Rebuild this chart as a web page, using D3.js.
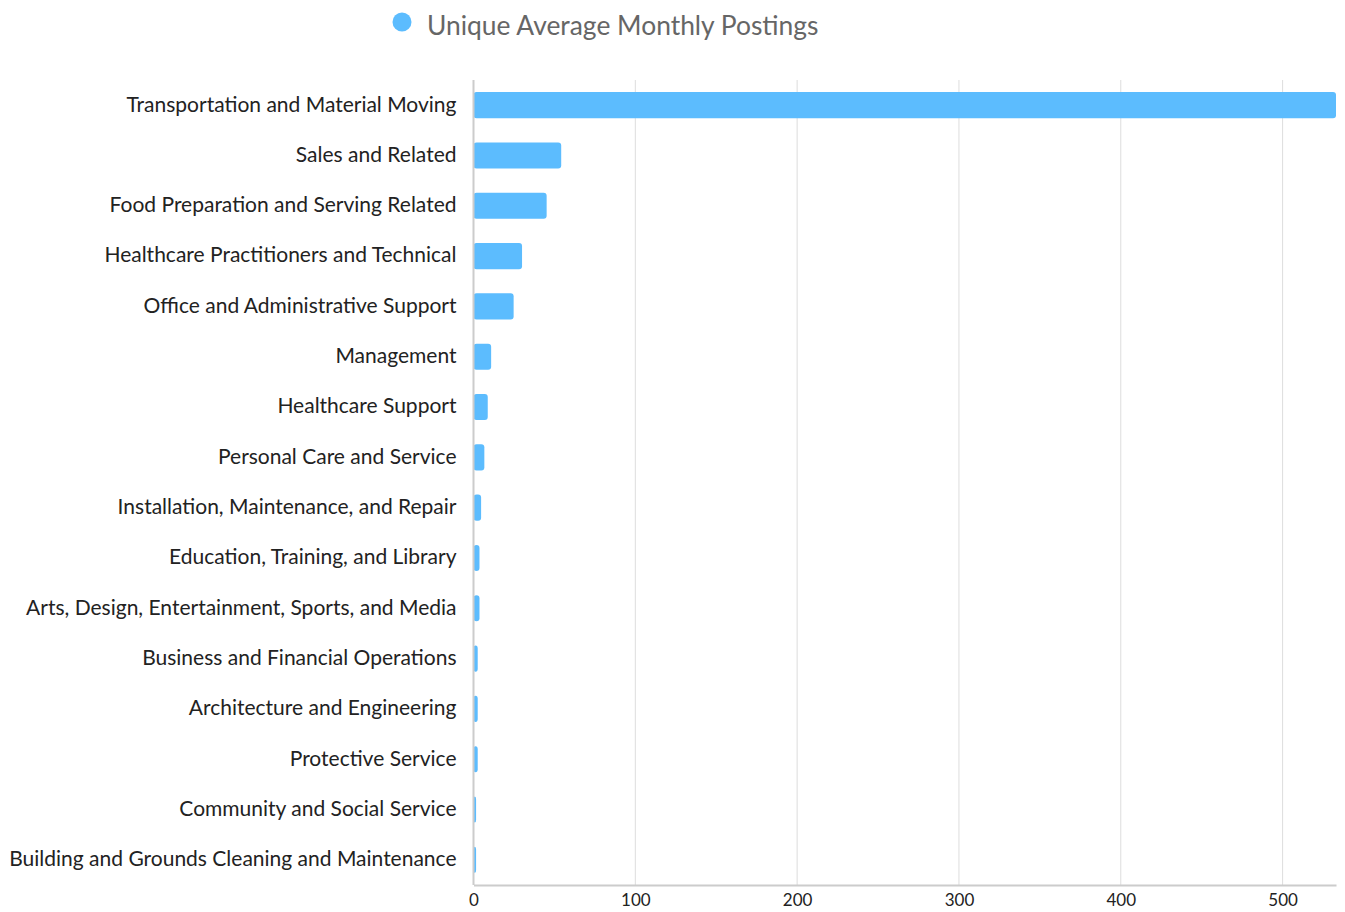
<!DOCTYPE html>
<html>
<head>
<meta charset="utf-8">
<script src="https://cdn.jsdelivr.net/npm/d3@7"></script>
<style>
  body { margin: 0; background: #fff; }
  text { font-family: Lato, "Open Sans", sans-serif; }
</style>
</head>
<body>
<svg id="chart" width="1345" height="912"></svg>
<script>
var categories = [
	'Transportation and Material Moving',
	'Sales and Related',
	'Food Preparation and Serving Related',
	'Healthcare Practitioners and Technical',
	'Office and Administrative Support',
	'Management',
	'Healthcare Support',
	'Personal Care and Service',
	'Installation, Maintenance, and Repair',
	'Education, Training, and Library',
	'Arts, Design, Entertainment, Sports, and Media',
	'Business and Financial Operations',
	'Architecture and Engineering',
	'Protective Service',
	'Community and Social Service',
	'Building and Grounds Cleaning and Maintenance'
];
var postings = [533, 54.2, 45.2, 30, 24.8, 10.9, 8.8, 6.7, 4.7, 3.7, 3.7, 2.6, 2.6, 2.6, 1.6, 1.6];
var xTicks = [0, 100, 200, 300, 400, 500];
var seriesName = 'Unique Average Monthly Postings';

var barColor = '#5cbcfe';
var margin = { top: 80, right: 9, bottom: 27, left: 473.5 };
var width = 1345, height = 912;

var svg = d3.select('#chart');

var xScale = d3.scaleLinear()
	.domain([0, d3.max(postings)])
	.range([margin.left, width - margin.right]);

var yScale = d3.scaleBand()
	.domain(categories)
	.range([margin.top, height - margin.bottom])
	.paddingInner(0.48)
	.paddingOuter(0.24);

// gridlines
svg.append('g').selectAll('line').data(xTicks.slice(1)).enter()
	.append('line')
	.attr('x1', function(d){return xScale(d)})
	.attr('x2', function(d){return xScale(d)})
	.attr('y1', margin.top)
	.attr('y2', height - margin.bottom)
	.attr('stroke', '#dddddd')
	.attr('stroke-width', 1);

// bars
svg.append('g').selectAll('rect').data(postings).enter()
	.append('rect')
	.attr('x', xScale(0))
	.attr('y', function(d, i){return yScale(categories[i])})
	.attr('width', function(d){return xScale(d) - xScale(0)})
	.attr('height', yScale.bandwidth())
	.attr('rx', 3)
	.attr('fill', barColor);

// left axis line
svg.append('line')
	.attr('x1', xScale(0)).attr('x2', xScale(0))
	.attr('y1', margin.top).attr('y2', height - margin.bottom)
	.attr('stroke', '#cccccc').attr('stroke-width', 2);

// bottom axis
var xAxis = svg.append('g')
	.attr('transform', 'translate(0,' + (height - margin.bottom) + ')')
	.call(d3.axisBottom(xScale).tickValues(xTicks).tickSize(0).tickPadding(9));
xAxis.select('.domain').attr('stroke', '#cccccc').attr('stroke-width', 2);
xAxis.selectAll('text')
	.attr('font-size', 17)
	.attr('fill', '#222')
	.style('font-family', 'Lato, sans-serif');

// category labels
svg.append('g').selectAll('text').data(categories).enter()
	.append('text')
	.attr('x', margin.left - 17)
	.attr('y', function(d){return yScale(d) + yScale.bandwidth() / 2 - 1})
	.attr('dy', '0.35em')
	.attr('text-anchor', 'end')
	.attr('font-size', 21)
	.attr('fill', '#222')
	.text(function(d){return d});

// legend
var legend = svg.append('g');
legend.append('circle')
	.attr('cx', 402).attr('cy', 22).attr('r', 9.5)
	.attr('fill', barColor);
legend.append('text')
	.attr('x', 427).attr('y', 25.5)
	.attr('dy', '0.35em')
	.attr('font-size', 26.4)
	.attr('fill', '#666')
	.text(seriesName);
</script>
</body>
</html>
